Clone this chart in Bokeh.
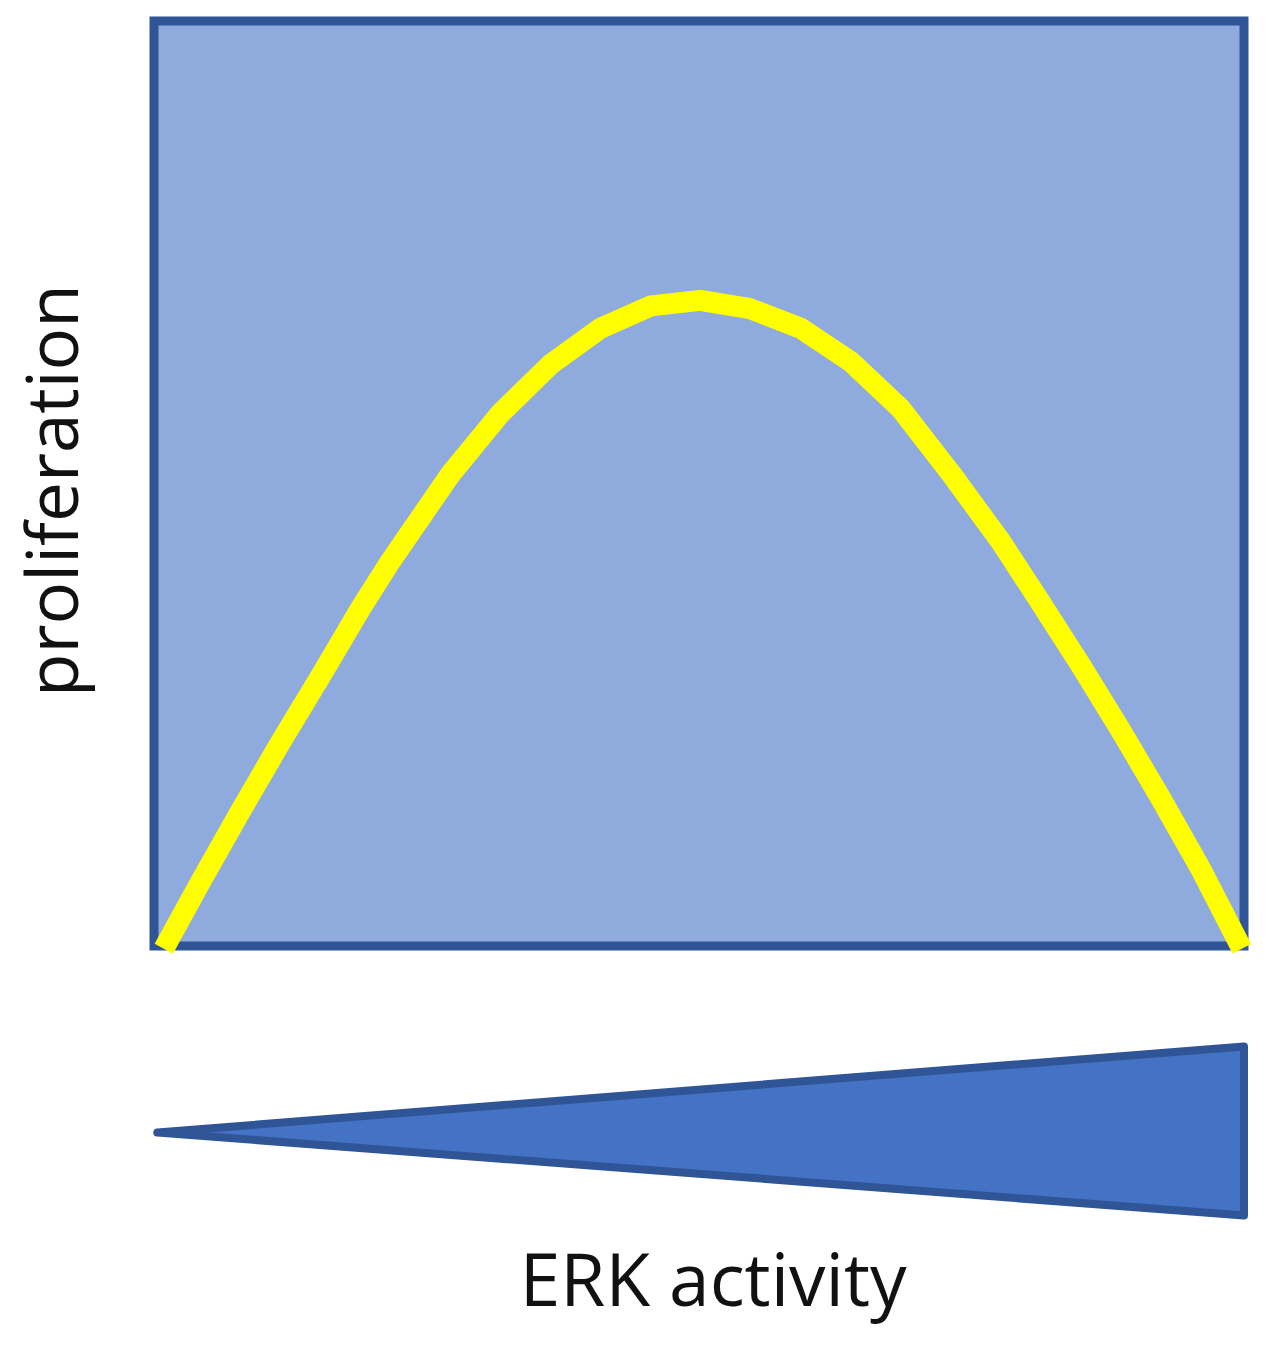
from bokeh.plotting import figure
from bokeh.models import Range1d
from bokeh.core.properties import value
from bokeh.embed import file_html
from bokeh.resources import INLINE
import math

# ---- data ----
erk_activity = [0.009, 0.043, 0.079, 0.116, 0.153, 0.189, 0.217, 0.272, 0.318, 0.364,
                0.410, 0.456, 0.501, 0.547, 0.593, 0.639, 0.685, 0.731, 0.777, 0.813,
                0.850, 0.887, 0.923, 0.960, 0.998]
proliferation = [-0.003, 0.070, 0.145, 0.220, 0.292, 0.364, 0.416, 0.510, 0.576, 0.629,
                 0.668, 0.692, 0.698, 0.689, 0.668, 0.632, 0.581, 0.511, 0.437, 0.372,
                 0.304, 0.233, 0.161, 0.084, -0.003]
x_label = "ERK activity"
y_label = "proliferation"

# ---- layout constants (pixels, page coordinates) ----
W, H = 1260, 1345
BOX_LEFT_PX, BOX_W_PX = 153.5, 1090.0
BOX_BOTTOM_PX, BOX_H_PX = 945.5, 925.0

x_range = Range1d(-BOX_LEFT_PX / BOX_W_PX, (W - BOX_LEFT_PX) / BOX_W_PX)
y_range = Range1d((BOX_BOTTOM_PX - H) / BOX_H_PX, BOX_BOTTOM_PX / BOX_H_PX)

p = figure(width=W, height=H, x_range=x_range, y_range=y_range,
           x_axis_type=None, y_axis_type=None, toolbar_location=None,
           output_backend="svg", min_border=0)
p.outline_line_color = None
p.background_fill_color = "white"
p.border_fill_color = "white"

BORDER = "#2F5597"

# plot box (axes area 0..1 x 0..1)
p.quad(left=[0], right=[1], bottom=[0], top=[1],
       fill_color="#8FAADC", line_color=BORDER, line_width=9, line_join="miter")

# curve
p.line(erk_activity, proliferation, line_color="#FFFF00", line_width=21,
       line_join="round", line_cap="butt")

# wedge indicating increasing ERK activity
p.patch([0.003, 1.0, 1.0], [-0.2016, -0.1086, -0.2914],
        fill_color="#4472C4", line_color=BORDER, line_width=8, line_join="round")

# labels
p.text(x=[0.513], y=[-0.3583], text=[x_label], text_font=value("Open Sans"),
       text_font_size="73px", text_align="center", text_baseline="alphabetic",
       text_color="#111111")
p.text(x=[-0.0950], y=[0.4924], text=[y_label], text_font=value("Open Sans"),
       text_font_size="71px", text_align="center", text_baseline="alphabetic",
       angle=math.pi / 2, text_color="#111111")

open("out.html", "w").write(file_html(p, INLINE))
